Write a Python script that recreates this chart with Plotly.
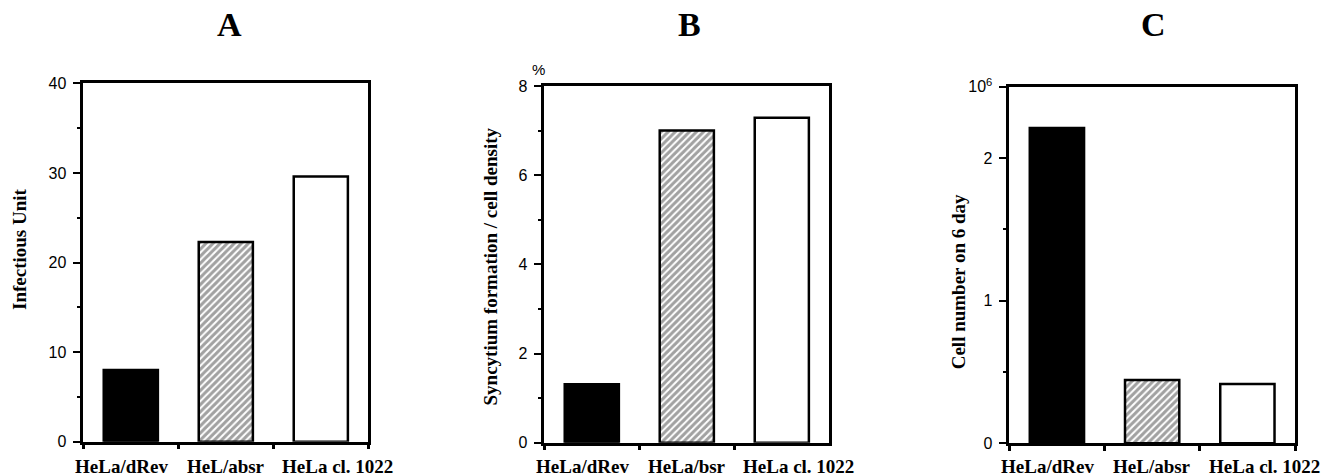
import plotly.graph_objects as go

# ---- data ----
labels_a = ["HeLa/dRev", "HeL/absr", "HeLa cl. 1022"]
labels_b = ["HeLa/dRev", "HeLa/bsr", "HeLa cl. 1022"]
labels_c = ["HeLa/dRev", "HeL/absr", "HeLa cl. 1022"]
infectious_unit = [8.0, 22.3, 29.6]
syncytium_pct = [1.31, 7.0, 7.29]
cell_number_1e6 = [2.21, 0.443, 0.415]
panel_titles = ["A", "B", "C"]
y_titles = ["Infectious Unit", "Syncytium formation / cell density", "Cell number on 6 day"]

fills = ["black", "white", "white"]
patterns = ["", "/", ""]

SERIF = "Liberation Serif"
SANS = "Liberation Sans"

fig = go.Figure()

def add_bars(x, y, xa, ya):
    fig.add_trace(go.Bar(
        x=x, y=y, xaxis=xa, yaxis=ya, width=0.57,
        marker=dict(color=fills, line=dict(color="black", width=2.5),
                    pattern=dict(shape=patterns, fgcolor="black", bgcolor="white",
                                 size=5, solidity=0.6, fillmode="overlay")),
        showlegend=False, hoverinfo="skip"))

add_bars(labels_a, infectious_unit, "x", "y")
add_bars(labels_b, syncytium_pct, "x2", "y2")
add_bars(labels_c, cell_number_1e6, "x3", "y3")

W, H = 1329, 476
OFF = 8  # page body margin: the figure is drawn 8px right/down of the window corner
def px(x): return (x - OFF) / W
def py(y): return (H - (y - OFF)) / H
def xd(a, b): return [px(a), px(b)]
def yd(bot, top): return [py(bot), py(top)]

common_x = dict(type="category", tickson="boundaries", ticks="outside", ticklen=5,
                tickwidth=2.5, tickcolor="black", showline=True, linecolor="black",
                linewidth=2.5, mirror=True, showgrid=False, zeroline=False,
                showticklabels=False, automargin=False, fixedrange=True,
                range=[-0.5, 2.5], autorange=False)
common_y = dict(ticks="outside", ticklen=8, tickwidth=2, tickcolor="black",
                showline=True, linecolor="black", linewidth=2.5, mirror=True,
                showgrid=False, zeroline=False, automargin=False,
                tickfont=dict(family=SANS, size=16, color="black"),
                ticklabelstandoff=3, fixedrange=True, autorange=False)

fig.update_layout(
    width=W, height=H, margin=dict(l=0, r=0, t=0, b=0, autoexpand=False),
    plot_bgcolor="white", paper_bgcolor="white",
    xaxis=dict(common_x, domain=xd(83.3, 368.3), anchor="y"),
    xaxis2=dict(common_x, domain=xd(544.3, 829.3), anchor="y2"),
    xaxis3=dict(common_x, domain=xd(1009.3, 1295), anchor="y3"),
    yaxis=dict(common_y, domain=yd(441.7, 83.3), anchor="x", range=[0, 40],
               tickvals=[0, 10, 20, 30, 40],
               minor=dict(ticks="outside", ticklen=4, tickwidth=2, tickcolor="black",
                          tickvals=[5, 15, 25, 35])),
    yaxis2=dict(common_y, domain=yd(442.7, 86), anchor="x2", range=[0, 8],
                tickvals=[0, 2, 4, 6, 8],
                minor=dict(ticks="outside", ticklen=4, tickwidth=2, tickcolor="black",
                           tickvals=[1, 3, 5, 7])),
    yaxis3=dict(common_y, domain=yd(443.3, 86.7), anchor="x3", range=[0, 2.5],
                tickvals=[0, 1, 2, 2.5], ticktext=["0", "1", "2", "10<sup>6</sup>"],
                minor=dict(ticks="outside", ticklen=4, tickwidth=2, tickcolor="black",
                           tickvals=[0.5, 1.5])),
)

# category labels under each panel (placed on the category axis, shifted as in the reference)
label_shift = [-9, 0, 17]
for xref, labels in [("x", labels_a), ("x2", labels_b), ("x3", labels_c)]:
    for lab, dx in zip(labels, label_shift):
        fig.add_annotation(xref=xref, yref="paper", x=lab, y=py(466.5),
                           text="<b>%s</b>" % lab, showarrow=False, xshift=dx,
                           font=dict(family=SERIF, size=19, color="black"),
                           xanchor="center", yanchor="middle")

# panel titles
for xpix, t in [(229.7, panel_titles[0]), (689, panel_titles[1]), (1153, panel_titles[2])]:
    fig.add_annotation(xref="paper", yref="paper", x=px(xpix), y=py(25), text="<b>%s</b>" % t,
                       showarrow=False, font=dict(family=SERIF, size=34, color="black"),
                       xanchor="center", yanchor="middle")

# y-axis titles
for xpix, ypix, t in [(19, 249, y_titles[0]), (490, 266.5, y_titles[1]), (958.3, 282, y_titles[2])]:
    fig.add_annotation(xref="paper", yref="paper", x=px(xpix), y=py(ypix),
                       text="<b>%s</b>" % t, textangle=-90, showarrow=False,
                       font=dict(family=SERIF, size=19, color="black"),
                       xanchor="center", yanchor="middle")

# percent sign above panel B axis
fig.add_annotation(xref="paper", yref="paper", x=px(538.3), y=py(69.3), text="%",
                   showarrow=False, font=dict(family=SANS, size=15, color="black"),
                   xanchor="center", yanchor="middle")

fig.write_html("out.html")
